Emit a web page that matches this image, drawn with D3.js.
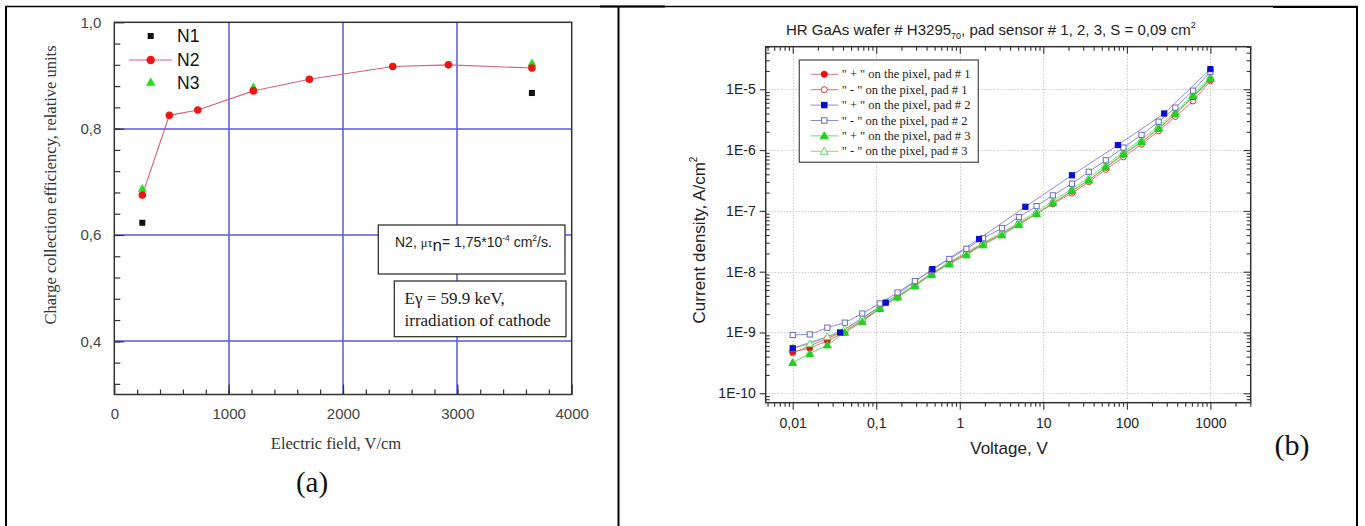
<!DOCTYPE html>
<html><head><meta charset="utf-8">
<script src="https://cdn.jsdelivr.net/npm/d3@7"></script>
<style>body{margin:0;background:#fff} svg{display:block}</style>
</head><body><svg id="c" width="1365" height="526"></svg>
<script>
// ---------- Panel (a) data ----------
const fieldN1 = [245, 3652];
const cceN1 = [0.623, 0.867];
const fieldN2 = [245, 481, 730, 1216, 1706, 2435, 2922, 3652];
const cceN2 = [0.675, 0.825, 0.835, 0.871, 0.893, 0.917, 0.920, 0.914];
const fieldN3 = [245, 1216, 3652];
const cceN3 = [0.688, 0.879, 0.924];
const xTicksA = [0, 1000, 2000, 3000, 4000];
const yTicksA = [0.4, 0.6, 0.8, 1.0];
const yTickLabelsA = ["0,4", "0,6", "0,8", "1,0"];
const legendA = ["N1", "N2", "N3"];

// ---------- Panel (b) data ----------
const voltage = [0.01, 0.016, 0.026, 0.042, 0.068, 0.11, 0.18, 0.29, 0.46, 0.75, 1.2, 1.9, 3.2, 5.1, 8.3, 13, 22, 35, 56, 91, 150, 240, 380, 620, 1000];
const voltagePad2Plus = [0.01, 0.037, 0.13, 0.47, 1.7, 6.1, 22, 78, 280, 1000];
const pad1Plus = [4.8e-10, 5.5e-10, 7.3e-10, 1.0e-9, 1.55e-9, 2.45e-9, 3.8e-9, 5.9e-9, 9.1e-9, 1.37e-8, 1.95e-8, 2.85e-8, 4.1e-8, 6.1e-8, 9.0e-8, 1.35e-7, 2.1e-7, 3.2e-7, 5.2e-7, 8.5e-7, 1.35e-6, 2.25e-6, 3.9e-6, 7.5e-6, 1.45e-5];
const pad1Minus = [4.6e-10, 6.0e-10, 8.0e-10, 1.05e-9, 1.6e-9, 2.5e-9, 3.9e-9, 6.0e-9, 9.3e-9, 1.4e-8, 2.0e-8, 2.9e-8, 4.2e-8, 6.2e-8, 9.0e-8, 1.3e-7, 1.95e-7, 3.0e-7, 4.8e-7, 7.7e-7, 1.25e-6, 2.06e-6, 3.55e-6, 6.4e-6, 1.37e-5];
const pad2Plus = [5.5e-10, 1.0e-9, 3.1e-9, 1.1e-8, 3.45e-8, 1.17e-7, 3.85e-7, 1.21e-6, 4.0e-6, 2.15e-5];
const pad2Minus = [9.1e-10, 9.3e-10, 1.2e-9, 1.45e-9, 2.05e-9, 3.0e-9, 4.55e-9, 7.0e-9, 1.06e-8, 1.62e-8, 2.38e-8, 3.55e-8, 5.2e-8, 7.9e-8, 1.2e-7, 1.8e-7, 2.8e-7, 4.4e-7, 6.8e-7, 1.1e-6, 1.78e-6, 2.93e-6, 5.0e-6, 9.5e-6, 1.94e-5];
const pad3Plus = [3.2e-10, 4.5e-10, 6.2e-10, 1.0e-9, 1.5e-9, 2.45e-9, 3.8e-9, 5.8e-9, 8.9e-9, 1.33e-8, 1.88e-8, 2.75e-8, 4.0e-8, 5.9e-8, 8.9e-8, 1.35e-7, 2.15e-7, 3.2e-7, 5.3e-7, 8.7e-7, 1.38e-6, 2.3e-6, 4.0e-6, 7.8e-6, 1.5e-5];
const pad3Minus = [5.5e-10, 6.5e-10, 8.5e-10, 1.15e-9, 1.7e-9, 2.6e-9, 4.0e-9, 6.2e-9, 9.5e-9, 1.45e-8, 2.1e-8, 3.0e-8, 4.4e-8, 6.5e-8, 9.7e-8, 1.45e-7, 2.3e-7, 3.5e-7, 5.7e-7, 9.3e-7, 1.5e-6, 2.5e-6, 4.2e-6, 8.3e-6, 1.6e-5];
const xTicksB = [0.01, 0.1, 1, 10, 100, 1000];
const xTickLabelsB = ["0,01", "0,1", "1", "10", "100", "1000"];
const yTicksB = [1e-10, 1e-9, 1e-8, 1e-7, 1e-6, 1e-5];
const yTickLabelsB = ["1E-10", "1E-9", "1E-8", "1E-7", "1E-6", "1E-5"];
const legendB = ['" + " on the pixel, pad # 1', '" - " on the pixel, pad # 1', '" + " on the pixel, pad # 2', '" - " on the pixel, pad # 2', '" + " on the pixel, pad # 3', '" - " on the pixel, pad # 3'];

const SANS = "'Liberation Sans', Arial, sans-serif";
const SERIF = "'Liberation Serif', 'Times New Roman', serif";
const svg = d3.select("#c");
const crisp = v => Math.round(v) + 0.5;

// ---------- page frame ----------
const frame = svg.append("g").attr("stroke", "#000").attr("fill", "none");
frame.append("line").attr("x1", 5).attr("x2", 1358).attr("y1", 6.5).attr("y2", 6.5).attr("stroke-width", 1.3);
frame.append("line").attr("x1", 600).attr("x2", 665).attr("y1", 6.5).attr("y2", 6.5).attr("stroke-width", 2);
frame.append("line").attr("x1", 1273).attr("x2", 1358).attr("y1", 7).attr("y2", 7).attr("stroke-width", 2);
[6, 618.5, 1357].forEach(x => frame.append("line").attr("x1", x).attr("x2", x).attr("y1", 6).attr("y2", 526).attr("stroke-width", 2));

// ================= Panel (a) =================
const xA = d3.scaleLinear().domain([0, 4000]).range([114.3, 571.7]);
const yA = d3.scaleLinear().domain([0.3, 1.0]).range([394.5, 22.3]);
const gA = svg.append("g");
const hA = yA(0.3) - yA(1.0), wA = xA(4000) - xA(0);

// grid (blue, slightly soft like the scan)
gA.append("g").selectAll("line").data([1000, 2000, 3000]).join("line")
  .attr("x1", d => Math.round(xA(d))).attr("x2", d => Math.round(xA(d))).attr("y1", yA(1.0)).attr("y2", yA(0.3))
  .attr("stroke", "#5858dc").attr("stroke-width", 1.5);
gA.append("g").selectAll("line").data([0.4, 0.6, 0.8]).join("line")
  .attr("y1", d => Math.round(yA(d))).attr("y2", d => Math.round(yA(d))).attr("x1", xA(0)).attr("x2", xA(4000))
  .attr("stroke", "#5858dc").attr("stroke-width", 1.5);

// ticks
gA.append("g").attr("transform", `translate(0,${yA(0.3)})`)
  .call(d3.axisBottom(xA).tickValues(d3.range(200, 4000, 200)).tickSize(-5).tickFormat(""))
  .call(g => g.select(".domain").remove())
  .call(g => g.selectAll("line").attr("stroke", "#333").attr("stroke-width", 1.2));
gA.append("g").attr("transform", `translate(0,${yA(0.3)})`)
  .call(d3.axisBottom(xA).tickValues(xTicksA).tickSize(-10).tickPadding(14).tickFormat(d3.format("d")))
  .call(g => g.select(".domain").remove())
  .call(g => g.selectAll("line").attr("stroke", "#333").attr("stroke-width", 1.2))
  .call(g => g.selectAll("text").attr("font-family", SANS).attr("font-size", 15).attr("fill", "#444"));
gA.append("g").attr("transform", `translate(${xA(0)},0)`)
  .call(d3.axisLeft(yA).tickValues(d3.range(0.32, 0.99, 0.04)).tickSize(-6).tickFormat(""))
  .call(g => g.select(".domain").remove())
  .call(g => g.selectAll("line").attr("stroke", "#333").attr("stroke-width", 1.2));
gA.append("g").attr("transform", `translate(${xA(0)},0)`)
  .call(d3.axisLeft(yA).tickValues(yTicksA).tickSize(-10).tickPadding(13).tickFormat((d, i) => yTickLabelsA[i]))
  .call(g => g.select(".domain").remove())
  .call(g => g.selectAll("line").attr("stroke", "#333").attr("stroke-width", 1.2))
  .call(g => g.selectAll("text").attr("font-family", SANS).attr("font-size", 15).attr("fill", "#444"));

// frame box
gA.append("rect").attr("x", xA(0)).attr("y", yA(1.0)).attr("width", wA).attr("height", hA)
  .attr("fill", "none").attr("stroke", "#333").attr("stroke-width", 1.5);

// N2 line
gA.append("path").datum(fieldN2.map((f, i) => [f, cceN2[i]]))
  .attr("d", d3.line().x(d => xA(d[0])).y(d => yA(d[1])))
  .attr("fill", "none").attr("stroke", "#d8607a").attr("stroke-width", 1.1);
// N3
gA.append("g").selectAll("path").data(fieldN3.map((f, i) => [f, cceN3[i]])).join("path")
  .attr("transform", d => `translate(${xA(d[0])},${yA(d[1]) + 1})`)
  .attr("d", d3.symbol(d3.symbolTriangle, 34)).attr("fill", "#1ee01e");
// N2
gA.append("g").selectAll("circle").data(fieldN2.map((f, i) => [f, cceN2[i]])).join("circle")
  .attr("cx", d => xA(d[0])).attr("cy", d => yA(d[1])).attr("r", 3.8).attr("fill", "#ee1515");
// N1
gA.append("g").selectAll("rect").data(fieldN1.map((f, i) => [f, cceN1[i]])).join("rect")
  .attr("x", d => xA(d[0]) - 3).attr("y", d => yA(d[1]) - 3).attr("width", 6).attr("height", 6).attr("fill", "#111");

// legend (a)
const lgA = gA.append("g");
lgA.append("rect").attr("x", 147.7).attr("y", 33).attr("width", 6).attr("height", 6).attr("fill", "#111");
lgA.append("line").attr("x1", 129).attr("x2", 172).attr("y1", 60).attr("y2", 60).attr("stroke", "#d8607a").attr("stroke-width", 1.1);
lgA.append("circle").attr("cx", 150.7).attr("cy", 60).attr("r", 4.2).attr("fill", "#ee1515");
lgA.append("path").attr("transform", "translate(150.7,83)").attr("d", d3.symbol(d3.symbolTriangle, 40)).attr("fill", "#1ee01e");
lgA.selectAll("text").data(legendA).join("text")
  .attr("x", 177).attr("y", (d, i) => 36 + i * 23.5).attr("dy", "0.36em")
  .attr("font-family", SANS).attr("font-size", 17.5).attr("fill", "#111").text(d => d);

// annotation boxes
gA.append("rect").attr("x", 378.3).attr("y", 225).attr("width", 186.7).attr("height", 49)
  .attr("fill", "#fff").attr("stroke", "#333").attr("stroke-width", 1.3);
const t1 = gA.append("text").attr("x", 395).attr("y", 247).attr("font-family", SANS).attr("font-size", 14).attr("fill", "#222");
t1.append("tspan").text("N2, ");
t1.append("tspan").attr("font-family", SERIF).attr("font-size", 12.5).text("μτ");
t1.append("tspan").attr("dy", 4).attr("font-size", 17).text("n");
t1.append("tspan").attr("dy", -4).text("= 1,75*10");
t1.append("tspan").attr("dy", -6).attr("font-size", 8.5).text("-4");
t1.append("tspan").attr("dy", 6).text(" cm");
t1.append("tspan").attr("dy", -6).attr("font-size", 8.5).text("2");
t1.append("tspan").attr("dy", 6).text("/s.");

gA.append("rect").attr("x", 394.3).attr("y", 281).attr("width", 171.7).attr("height", 55.7)
  .attr("fill", "#fff").attr("stroke", "#333").attr("stroke-width", 1.3);
gA.append("text").attr("x", 404.5).attr("y", 304).attr("font-family", SERIF).attr("font-size", 17).attr("fill", "#222").text("Eγ = 59.9 keV,");
gA.append("text").attr("x", 404.5).attr("y", 326).attr("font-family", SERIF).attr("font-size", 17).attr("fill", "#222").text("irradiation of cathode");

// titles (a)
gA.append("text").attr("transform", "translate(50,185) rotate(-90)").attr("text-anchor", "middle").attr("dy", "0.35em")
  .attr("font-family", SERIF).attr("font-size", 16.5).attr("fill", "#333").text("Charge collection efficiency, relative units");
gA.append("text").attr("x", 336).attr("y", 443).attr("text-anchor", "middle").attr("dy", "0.35em")
  .attr("font-family", SERIF).attr("font-size", 16.5).attr("fill", "#333").text("Electric field, V/cm");
gA.append("text").attr("x", 312).attr("y", 482).attr("text-anchor", "middle").attr("dy", "0.33em")
  .attr("font-family", SERIF).attr("font-size", 29).attr("fill", "#111").text("(a)");

// ================= Panel (b) =================
const xB = d3.scaleLog().domain([0.00475, 3036]).range([765.7, 1250.7]);
const yB = d3.scaleLog().domain([7.0e-11, 5.02e-5]).range([402.7, 46.7]);
const gB = svg.append("g");
const bx0 = xB.range()[0], bx1 = xB.range()[1], by0 = yB.range()[0], by1 = yB.range()[1];

// dotted grid
gB.append("g").selectAll("line").data(xTicksB).join("line")
  .attr("x1", d => crisp(xB(d))).attr("x2", d => crisp(xB(d))).attr("y1", by1).attr("y2", by0)
  .attr("stroke", "#b4b4b4").attr("stroke-dasharray", "1,2");
gB.append("g").selectAll("line").data(yTicksB).join("line")
  .attr("y1", d => crisp(yB(d))).attr("y2", d => crisp(yB(d))).attr("x1", bx0).attr("x2", bx1)
  .attr("stroke", "#b4b4b4").attr("stroke-dasharray", "1,2");

// minor tick values
const minorX = [];
[0.001, 0.01, 0.1, 1, 10, 100, 1000].forEach(d => { for (let k = 2; k <= 9; k++) { const v = d * k; if (v > 0.00475 && v < 3036) minorX.push(v); } });
const minorY = [];
[1e-11, 1e-10, 1e-9, 1e-8, 1e-7, 1e-6, 1e-5].forEach(d => { for (let k = 2; k <= 9; k++) { const v = d * k; if (v > 7.0e-11 && v < 5.02e-5) minorY.push(v); } });

function tickStyle(g) { g.select(".domain").remove(); g.selectAll("line").attr("stroke", "#333").attr("stroke-width", 1.1); }
// bottom (outward)
gB.append("g").attr("transform", `translate(0,${by0})`).call(d3.axisBottom(xB).tickValues(minorX).tickSize(4).tickFormat("")).call(tickStyle);
gB.append("g").attr("transform", `translate(0,${by0})`)
  .call(d3.axisBottom(xB).tickValues(xTicksB).tickSize(7).tickPadding(8).tickFormat((d, i) => xTickLabelsB[i])).call(tickStyle)
  .call(g => g.selectAll("text").attr("font-family", SANS).attr("font-size", 14).attr("fill", "#222"));
// top (pointing down, inside)
gB.append("g").attr("transform", `translate(0,${by1})`).call(d3.axisTop(xB).tickValues(minorX).tickSize(-4).tickFormat("")).call(tickStyle);
gB.append("g").attr("transform", `translate(0,${by1})`).call(d3.axisTop(xB).tickValues(xTicksB).tickSize(-7).tickFormat("")).call(tickStyle);
// left
gB.append("g").attr("transform", `translate(${bx0},0)`).call(d3.axisLeft(yB).tickValues(minorY).tickSize(-4).tickFormat("")).call(tickStyle);
gB.append("g").attr("transform", `translate(${bx0},0)`)
  .call(d3.axisLeft(yB).tickValues(yTicksB).tickSize(6).tickPadding(4).tickFormat((d, i) => yTickLabelsB[i])).call(tickStyle)
  .call(g => g.selectAll("text").attr("font-family", SANS).attr("font-size", 14).attr("fill", "#222"));
// right (inside)
gB.append("g").attr("transform", `translate(${bx1},0)`).call(d3.axisRight(yB).tickValues(minorY).tickSize(-4).tickFormat("")).call(tickStyle);
gB.append("g").attr("transform", `translate(${bx1},0)`).call(d3.axisRight(yB).tickValues(yTicksB).tickSize(-7).tickFormat("")).call(tickStyle);

gB.append("rect").attr("x", bx0).attr("y", by1).attr("width", bx1 - bx0).attr("height", by0 - by1)
  .attr("fill", "none").attr("stroke", "#333").attr("stroke-width", 1.5);

// series definitions (style only)
const seriesB = [
  { x: voltage, y: pad1Minus, line: "#e07070", shape: "circle", fill: "#fff", stroke: "#d03c3c" },
  { x: voltage, y: pad1Plus, line: "#e07070", shape: "circle", fill: "#e51010", stroke: "#e51010" },
  { x: voltage, y: pad3Minus, line: "#7ee07e", shape: "triangle", fill: "#fff", stroke: "#5fd45f" },
  { x: voltage, y: pad3Plus, line: "#6cd86c", shape: "triangle", fill: "#22d022", stroke: "#22d022" },
  { x: voltage, y: pad2Minus, line: "#8c8cd8", shape: "square", fill: "#fff", stroke: "#6a6ac0" },
  { x: voltagePad2Plus, y: pad2Plus, line: "#8c8cd8", shape: "square", fill: "#0a0ad0", stroke: "#0a0ad0" }
];
svg.append("clipPath").attr("id", "clipB").append("rect").attr("x", bx0).attr("y", by1).attr("width", bx1 - bx0).attr("height", by0 - by1);
const plotB = gB.append("g").attr("clip-path", "url(#clipB)");
function drawMarker(sel, s, cx, cy, scale) {
  const k = scale || 1;
  if (s.shape === "circle") sel.append("circle").attr("cx", cx).attr("cy", cy).attr("r", 2.9 * k).attr("fill", s.fill).attr("stroke", s.stroke).attr("stroke-width", 1);
  else if (s.shape === "square") sel.append("rect").attr("x", cx - 2.6 * k).attr("y", cy - 2.6 * k).attr("width", 5.2 * k).attr("height", 5.2 * k).attr("fill", s.fill).attr("stroke", s.stroke).attr("stroke-width", 1);
  else sel.append("path").attr("transform", `translate(${cx},${cy + 0.6})`).attr("d", d3.symbol(d3.symbolTriangle, 26 * k * k)).attr("fill", s.fill).attr("stroke", s.stroke).attr("stroke-width", 1);
}
seriesB.forEach(s => {
  const pts = s.x.map((v, i) => [v, s.y[i]]);
  plotB.append("path").datum(pts).attr("d", d3.line().x(d => xB(d[0])).y(d => yB(d[1])))
    .attr("fill", "none").attr("stroke", s.line).attr("stroke-width", 1);
});
seriesB.forEach(s => {
  const g = plotB.append("g");
  s.x.forEach((v, i) => drawMarker(g, s, xB(v), yB(s.y[i])));
});

// legend (b)
const legOrder = [1, 0, 5, 4, 3, 2];
gB.append("rect").attr("x", 799.3).attr("y", 60).attr("width", 179).attr("height", 102.3)
  .attr("fill", "#fff").attr("stroke", "#555").attr("stroke-width", 1.3);
legendB.forEach((label, i) => {
  const s = seriesB[legOrder[i]];
  const y = 74.3 + i * 15.4;
  const g = gB.append("g");
  g.append("line").attr("x1", 810.7).attr("x2", 838.3).attr("y1", y).attr("y2", y).attr("stroke", s.line).attr("stroke-width", 1);
  drawMarker(g, s, 824.3, y, 1.05);
  g.append("text").attr("x", 841.7).attr("y", y).attr("dy", "0.33em").attr("font-family", SERIF).attr("font-size", 12.5).attr("fill", "#222").text(label);
});

// titles (b)
const tt = gB.append("text").attr("x", 786).attr("y", 35).attr("font-family", SANS).attr("font-size", 15).attr("fill", "#222");
tt.append("tspan").text("HR GaAs wafer # H3295");
tt.append("tspan").attr("dy", 4).attr("font-size", 9).text("70");
tt.append("tspan").attr("dy", -4).text(", pad sensor # 1, 2, 3, S = 0,09 cm");
tt.append("tspan").attr("dy", -7).attr("font-size", 9).text("2");
const yt = gB.append("text").attr("transform", "translate(699,240) rotate(-90)").attr("text-anchor", "middle").attr("dy", "0.35em")
  .attr("font-family", SANS).attr("font-size", 17).attr("fill", "#222");
yt.append("tspan").text("Current density, A/cm");
yt.append("tspan").attr("dy", -8).attr("font-size", 10).text("2");
gB.append("text").attr("x", 1009).attr("y", 448).attr("text-anchor", "middle").attr("dy", "0.35em")
  .attr("font-family", SANS).attr("font-size", 17).attr("fill", "#222").text("Voltage, V");
gB.append("text").attr("x", 1292).attr("y", 445).attr("text-anchor", "middle").attr("dy", "0.33em")
  .attr("font-family", SERIF).attr("font-size", 30).attr("fill", "#111").text("(b)");
</script>
</body></html>
